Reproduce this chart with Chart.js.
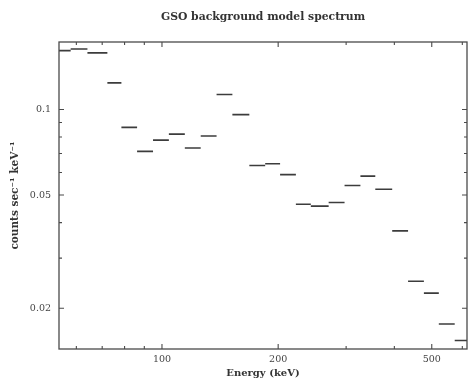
<!DOCTYPE html>
<html><head><meta charset="utf-8">
<script src="https://cdn.jsdelivr.net/npm/chart.js@4/dist/chart.umd.min.js"></script>
<style>html,body{margin:0;padding:0;background:#fff;}#wrap{width:472px;height:380px;position:relative;}</style>
</head><body><div id="wrap"><canvas id="c" width="472" height="380"></canvas></div>
<script>
// Energy bin edges (keV) and model counts per bin
const binEdges = [52.7, 58.0, 64.1, 72.2, 78.5, 86.2, 94.8, 104.2, 114.6, 126.0, 138.5, 152.2, 168.4, 185.1, 202.3, 222.3, 243.0, 270.3, 297.2, 326.7, 357.0, 394.9, 434.1, 477.1, 521.5, 573.4, 625];
const counts = [0.161, 0.163, 0.158, 0.124, 0.0865, 0.0712, 0.0780, 0.0819, 0.0732, 0.0806, 0.1129, 0.0959, 0.0635, 0.0644, 0.0590, 0.0464, 0.0457, 0.0471, 0.0540, 0.0583, 0.0524, 0.0374, 0.0249, 0.0226, 0.0176, 0.0154];
const xTickLabels = [100, 200, 500];
const yTickLabels = [0.1, 0.05, 0.02];
const xRange = [54.1, 617];
const yRange = [0.01438, 0.1726];

const pts = [];
counts.forEach((v, i) => {
  pts.push({x: binEdges[i], y: v});
  pts.push({x: binEdges[i + 1], y: v});
  pts.push({x: binEdges[i + 1], y: null});
});

const near = (a, list) => list.some(b => Math.abs(a - b) / b < 1e-6);
const isDecadeStep = v => { const s = v / Math.pow(10, Math.floor(Math.log10(v) + 1e-9)); return Math.abs(s - Math.round(s)) < 1e-6; };

const inwardTicks = {
  id: 'inwardTicks',
  afterDraw(chart) {
    const {ctx, chartArea: a, scales: {x, y}} = chart;
    ctx.save();
    ctx.strokeStyle = '#4a4a4a';
    ctx.lineWidth = 1.3;
    ctx.strokeRect(a.left, a.top, a.right - a.left, a.bottom - a.top);
    ctx.lineWidth = 1.1;
    ctx.beginPath();
    x.ticks.forEach(t => {
      const v = t.value;
      if (v <= x.min || v >= x.max || !isDecadeStep(v)) return;
      const p = x.getPixelForValue(v);
      const len = near(v, xTickLabels) ? 5 : 3;
      ctx.moveTo(p, a.bottom); ctx.lineTo(p, a.bottom - len);
      ctx.moveTo(p, a.top); ctx.lineTo(p, a.top + len);
    });
    y.ticks.forEach(t => {
      const v = t.value;
      if (v <= y.min || v >= y.max || !isDecadeStep(v)) return;
      const p = y.getPixelForValue(v);
      const len = near(v, yTickLabels) ? 5 : 3;
      ctx.moveTo(a.left, p); ctx.lineTo(a.left + len, p);
      ctx.moveTo(a.right, p); ctx.lineTo(a.right - len, p);
    });
    ctx.stroke();
    ctx.restore();
  }
};

new Chart(document.getElementById('c'), {
  type: 'scatter',
  data: {
    datasets: [{
      data: pts,
      showLine: true,
      spanGaps: false,
      borderColor: '#3c3c3c',
      borderWidth: 1.6,
      pointRadius: 0,
      pointHoverRadius: 0,
      fill: false
    }]
  },
  options: {
    responsive: false,
    devicePixelRatio: 1,
    animation: false,
    layout: {padding: {left: 0, right: 2, top: 0, bottom: 0}},
    plugins: {legend: {display: false}, tooltip: {enabled: false}, title: {display: false}},
    scales: {
      x: {
        type: 'logarithmic', position: 'bottom', min: xRange[0], max: xRange[1],
        grid: {display: false, drawTicks: false},
        border: {display: false},
        ticks: {autoSkip: false, maxRotation: 0, padding: 5, color: '#444',
          font: {family: 'DejaVu Serif', size: 9.5},
          callback: v => near(v, xTickLabels) ? String(v) : ''},
        title: {display: true, text: 'Energy (keV)', color: '#333',
          font: {family: 'DejaVu Serif', size: 10, weight: 'bold'}, padding: {top: 0, bottom: 1}},
        afterFit: s => { s.height = 31; }
      },
      x2: {
        type: 'logarithmic', position: 'top', min: xRange[0], max: xRange[1],
        grid: {display: false, drawTicks: false},
        border: {display: false},
        ticks: {display: false},
        title: {display: true, text: 'GSO background model spectrum', color: '#333',
          font: {family: 'DejaVu Serif', size: 10.8, weight: 'bold'}, padding: {top: 10.5, bottom: 0}},
        afterFit: s => { s.height = 42; }
      },
      y: {
        type: 'logarithmic', position: 'left', min: yRange[0], max: yRange[1],
        grid: {display: false, drawTicks: false},
        border: {display: false},
        ticks: {autoSkip: false, padding: 8, color: '#444',
          font: {family: 'DejaVu Serif', size: 9.5},
          callback: v => near(v, yTickLabels) ? String(v) : ''},
        title: {display: true, text: 'counts sec\u207B\u00B9 keV\u207B\u00B9', color: '#333',
          font: {family: 'DejaVu Serif', size: 10.5, weight: 'bold'}, padding: {top: 9, bottom: 0}},
        afterFit: s => { s.width = 59; }
      }
    }
  },
  plugins: [inwardTicks]
});
</script>
</body></html>
